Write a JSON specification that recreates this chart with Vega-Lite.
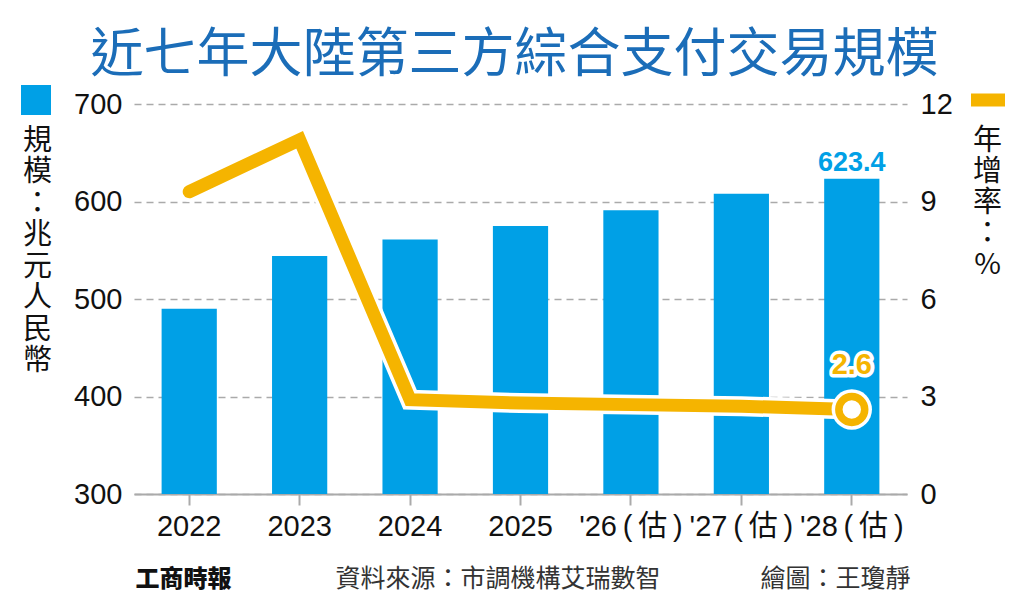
{
  "$schema": "https://vega.github.io/schema/vega-lite/v6.json",
  "width": 773,
  "height": 390,
  "autosize": "none",
  "padding": {"left": 134, "top": 104, "right": 117, "bottom": 108},
  "background": "white",
  "title": {
    "text": "近七年大陸第三方綜合支付交易規模",
    "font": "Noto Sans CJK TC",
    "fontSize": 53,
    "fontWeight": "normal",
    "color": "#1b6db8",
    "anchor": "middle",
    "dx": -6,
    "offset": 0
  },
  "data": {
    "values": [
      {"year": "2022", "size": 490, "growth": 9.3},
      {"year": "2023", "size": 544, "growth": 10.9},
      {"year": "2024", "size": 561, "growth": 2.9},
      {"year": "2025", "size": 575, "growth": 2.8},
      {"year": "'26(估)", "size": 591, "growth": 2.75},
      {"year": "'27(估)", "size": 608, "growth": 2.7},
      {"year": "'28(估)", "size": 623.4, "growth": 2.6}
    ]
  },
  "layer": [
    {
      "encoding": {
        "x": {
          "field": "year",
          "type": "nominal",
          "sort": null,
          "scale": {"paddingInner": 0.5, "paddingOuter": 0.25},
          "axis": {
            "labelAngle": 0,
            "labelFontSize": 29,
            "labelColor": "#111",
            "labelPadding": 7,
            "labelExpr": "replace(replace(datum.label, '(', '\u2009(\u2009'), ')', '\u2009)')",
            "tickSize": 11,
            "tickColor": "#aaa",
            "tickWidth": 2,
            "domainColor": "#aaa",
            "domainWidth": 2,
            "title": "資料來源：市調機構艾瑞數智　　　　繪圖：王瓊靜",
            "titleFont": "Noto Sans CJK TC",
            "titleFontSize": 25,
            "titleFontWeight": "normal",
            "titleColor": "#333",
            "titleAlign": "left",
            "titleAnchor": "start",
            "titleBaseline": "alphabetic",
            "titleX": 201,
            "titleY": 92
          }
        }
      },
      "layer": [
        {
          "mark": {"type": "bar"},
          "encoding": {
            "y": {
              "field": "size",
              "type": "quantitative",
              "scale": {"domain": [300, 700], "zero": false},
              "axis": {
                "values": [300, 400, 500, 600, 700],
                "labelFontSize": 29,
                "labelColor": "#111",
                "labelPadding": 12,
                "ticks": false,
                "domain": false,
                "grid": true,
                "gridDash": [7, 5],
                "gridColor": "#aaa",
                "gridWidth": 1.5,
                "title": ["規", "模", "：", "兆", "元", "人", "民", "幣"],
                "titleFont": "Noto Sans CJK TC",
                "titleFontSize": 29,
                "titleFontWeight": "normal",
                "titleColor": "#111",
                "titleAngle": 0,
                "titleAlign": "center",
                "titleBaseline": "top",
                "titleLineHeight": 31.5,
                "titleX": -97,
                "titleY": 22
              }
            },
            "y2": {"datum": 300},
            "fill": {
              "datum": "規模",
              "scale": {"range": ["#00a0e6"]},
              "legend": {
                "orient": "none",
                "legendX": -113,
                "legendY": -19,
                "title": null,
                "padding": 0,
                "symbolType": "square",
                "symbolSize": 900,
                "symbolStrokeWidth": 0,
                "labelExpr": "''",
                "labelOffset": 0
              }
            }
          }
        },
        {
          "transform": [{"filter": "datum.size > 620"}],
          "mark": {
            "type": "text",
            "font": "Liberation Sans",
            "fontSize": 27,
            "fontWeight": "bold",
            "color": "#00a0e6",
            "baseline": "alphabetic",
            "dy": -8
          },
          "encoding": {
            "y": {"field": "size", "type": "quantitative"},
            "text": {"field": "size", "type": "quantitative", "format": ".1f"}
          }
        }
      ]
    },
    {
      "encoding": {
        "x": {
          "field": "year",
          "type": "nominal",
          "sort": null,
          "scale": {"paddingInner": 0.5, "paddingOuter": 0.25},
          "axis": {
            "orient": "bottom",
            "labels": false,
            "ticks": false,
            "domain": false,
            "grid": false,
            "title": "工商時報",
            "titleFont": "Noto Sans CJK TC",
            "titleFontSize": 24,
            "titleFontWeight": 900,
            "titleColor": "#111",
            "titleAlign": "left",
            "titleAnchor": "start",
            "titleBaseline": "alphabetic",
            "titleX": 1,
            "titleY": 92
          }
        },
        "y": {
          "field": "growth",
          "type": "quantitative",
          "scale": {"domain": [0, 12]},
          "axis": {
            "orient": "right",
            "values": [0, 3, 6, 9, 12],
            "labelFontSize": 29,
            "labelColor": "#111",
            "labelPadding": 13,
            "ticks": false,
            "domain": false,
            "grid": false,
            "title": ["年", "增", "率", "：", "%"],
            "titleFont": "Noto Sans CJK TC",
            "titleFontSize": 29,
            "titleFontWeight": "normal",
            "titleColor": "#111",
            "titleAngle": 0,
            "titleAlign": "center",
            "titleBaseline": "top",
            "titleLineHeight": 31,
            "titleX": 80,
            "titleY": 22
          }
        }
      },
      "layer": [
        {
          "mark": {"type": "line", "color": "white", "strokeWidth": 20, "strokeCap": "round", "strokeJoin": "miter"}
        },
        {
          "mark": {"type": "line", "strokeWidth": 13, "strokeCap": "round", "strokeJoin": "miter"},
          "encoding": {
            "stroke": {
              "datum": "年增率",
              "scale": {"range": ["#f5b400"]},
              "legend": {
                "orient": "none",
                "legendX": 837,
                "legendY": -21,
                "title": null,
                "padding": 0,
                "symbolType": "M-1,-0.38H1V0.38H-1Z",
                "symbolSize": 1156,
                "symbolFillColor": "#f5b400",
                "symbolStrokeWidth": 0,
                "labelExpr": "''",
                "labelOffset": 0
              }
            }
          }
        },
        {
          "transform": [{"filter": "datum.year == \"'28(估)\""}],
          "mark": {"type": "point", "shape": "circle", "filled": true, "color": "white", "size": 1630, "opacity": 1}
        },
        {
          "transform": [{"filter": "datum.year == \"'28(估)\""}],
          "mark": {"type": "point", "shape": "circle", "filled": true, "fill": "white", "stroke": "#f5b400", "strokeWidth": 7.5, "size": 670, "opacity": 1}
        },
        {
          "transform": [{"filter": "datum.year == \"'28(估)\""}],
          "mark": {
            "type": "text",
            "font": "Liberation Sans",
            "fontSize": 29,
            "fontWeight": "bold",
            "fill": "white",
            "stroke": "white",
            "strokeWidth": 7,
            "strokeJoin": "round",
            "baseline": "alphabetic",
            "dy": -36
          },
          "encoding": {"text": {"field": "growth", "type": "quantitative", "format": ".1f"}}
        },
        {
          "transform": [{"filter": "datum.year == \"'28(估)\""}],
          "mark": {
            "type": "text",
            "font": "Liberation Sans",
            "fontSize": 29,
            "fontWeight": "bold",
            "color": "#f5b400",
            "baseline": "alphabetic",
            "dy": -36
          },
          "encoding": {"text": {"field": "growth", "type": "quantitative", "format": ".1f"}}
        }
      ]
    }
  ],
  "resolve": {"scale": {"x": "independent", "y": "independent"}},
  "config": {
    "font": "Liberation Sans, Noto Sans CJK TC",
    "view": {"stroke": null}
  }
}
